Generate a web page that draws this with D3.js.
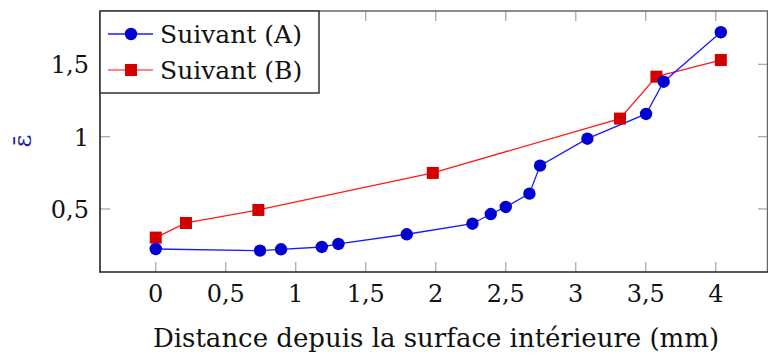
<!DOCTYPE html>
<html><head><meta charset="utf-8">
<script src="https://cdn.jsdelivr.net/npm/d3@7"></script>
<style>body{margin:0;background:#fff}svg{display:block}text{font-family:"DejaVu Serif",serif;fill:#111}</style>
</head><body><svg id="c" width="768" height="356"></svg>
<script>
const xA=[0,0.745,0.895,1.186,1.305,1.793,2.262,2.393,2.5,2.669,2.745,3.083,3.502,3.628,4.036];
const yA=[0.223,0.212,0.221,0.237,0.258,0.325,0.398,0.465,0.514,0.606,0.80,0.986,1.157,1.38,1.722];
const xB=[0,0.216,0.733,1.979,3.316,3.576,4.036];
const yB=[0.302,0.403,0.493,0.749,1.125,1.415,1.530];
const xTicks=[0,0.5,1,1.5,2,2.5,3,3.5,4];
const yTicks=[0.5,1,1.5];
const seriesNames=["Suivant (A)","Suivant (B)"];
const xTitle="Distance depuis la surface intérieure (mm)";
const yTitle="ε̄";

const L=100,R=768,T=11,B=272;
const x=d3.scaleLinear().domain([-0.398,4.373]).range([L,R]);
const y=d3.scaleLinear().domain([0.064,1.869]).range([B,T]);
const svg=d3.select("#c");
const fmt=d=>String(d).replace(".",",");

// ticks (inside, gray)
const g=svg.append("g");
g.selectAll(".xb").data(xTicks).join("line").attr("x1",d=>x(d)).attr("x2",d=>x(d)).attr("y1",B).attr("y2",B-10).attr("stroke","#aaa").attr("stroke-width",1.3);
g.selectAll(".xt").data(xTicks).join("line").attr("x1",d=>x(d)).attr("x2",d=>x(d)).attr("y1",T).attr("y2",T+10).attr("stroke","#aaa").attr("stroke-width",1.3);
g.selectAll(".yl").data(yTicks).join("line").attr("x1",L).attr("x2",L+10).attr("y1",d=>y(d)).attr("y2",d=>y(d)).attr("stroke","#aaa").attr("stroke-width",1.3);
g.selectAll(".yr").data(yTicks).join("line").attr("x1",R).attr("x2",R-10).attr("y1",d=>y(d)).attr("y2",d=>y(d)).attr("stroke","#aaa").attr("stroke-width",1.3);

// frame
svg.append("line").attr("x1",L).attr("x2",R).attr("y1",T).attr("y2",T).attr("stroke","#666").attr("stroke-width",1.5);
svg.append("line").attr("x1",R-0.5).attr("x2",R-0.5).attr("y1",T).attr("y2",B).attr("stroke","#666").attr("stroke-width",1.5);
svg.append("line").attr("x1",L).attr("x2",L).attr("y1",T).attr("y2",B+0.8).attr("stroke","#222").attr("stroke-width",1.6);
svg.append("line").attr("x1",L).attr("x2",R).attr("y1",B).attr("y2",B).attr("stroke","#222").attr("stroke-width",1.6);

// tick labels
svg.selectAll(".xl").data(xTicks).join("text").attr("x",d=>x(d)).attr("y",302).attr("text-anchor","middle").attr("font-size",24).text(fmt);
svg.selectAll(".ylab").data(yTicks).join("text").attr("x",89).attr("y",d=>y(d)+9).attr("text-anchor","end").attr("font-size",24).text(fmt);

// titles
svg.append("text").attr("x",436).attr("y",347).attr("text-anchor","middle").attr("font-size",26).text(xTitle);
svg.append("text").attr("transform","translate(31,141) rotate(-90)").attr("text-anchor","middle").attr("font-size",25).style("fill","#1c1c9c").text(yTitle);

// series
const line=d3.line().x(d=>x(d[0])).y(d=>y(d[1]));
const A=xA.map((v,i)=>[v,yA[i]]), Bd=xB.map((v,i)=>[v,yB[i]]);
svg.append("path").attr("d",line(Bd)).attr("fill","none").attr("stroke","#ff1a1a").attr("stroke-width",1.3);
svg.append("path").attr("d",line(A)).attr("fill","none").attr("stroke","#1a1aff").attr("stroke-width",1.3);
svg.selectAll(".mb").data(Bd).join("rect").attr("x",d=>x(d[0])-6).attr("y",d=>y(d[1])-6).attr("width",12).attr("height",12).attr("fill","#d40000");
svg.selectAll(".ma").data(A).join("circle").attr("cx",d=>x(d[0])).attr("cy",d=>y(d[1])).attr("r",6.2).attr("fill","#0000d0");

// legend
const lg=svg.append("g");
lg.append("rect").attr("x",100).attr("y",11).attr("width",219).attr("height",82).attr("fill","#fff").attr("stroke","#333").attr("stroke-width",1.5);
const rows=[{c:"#1a1aff",m:"#0000d0",t:"circle",yy:34},{c:"#ff5a5a",m:"#d40000",t:"rect",yy:70}];
rows.forEach((r,i)=>{
  lg.append("line").attr("x1",108).attr("x2",153).attr("y1",r.yy).attr("y2",r.yy).attr("stroke",r.c).attr("stroke-width",1.3);
  if(r.t==="circle") lg.append("circle").attr("cx",131).attr("cy",r.yy).attr("r",6.2).attr("fill",r.m);
  else lg.append("rect").attr("x",125).attr("y",r.yy-6).attr("width",12).attr("height",12).attr("fill",r.m);
  lg.append("text").attr("x",160).attr("y",r.yy+9).attr("font-size",25).text(seriesNames[i]);
});
</script></body></html>
